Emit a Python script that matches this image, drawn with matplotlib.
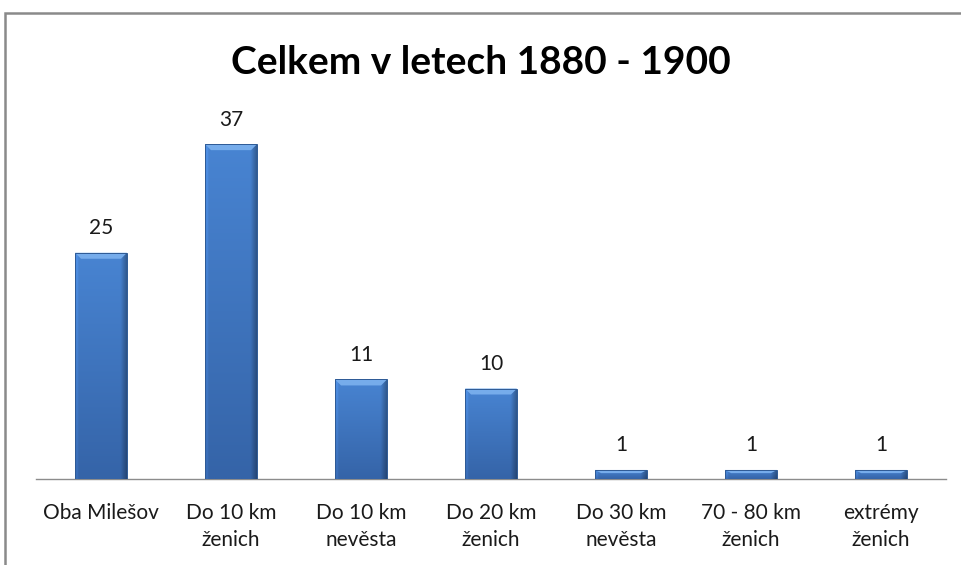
import matplotlib
matplotlib.use("Agg")
import matplotlib.pyplot as plt
import numpy as np
from matplotlib.patches import Rectangle, Polygon

categories = ["Oba Milešov", "Do 10 km\nženich", "Do 10 km\nnevěsta", "Do 20 km\nženich",
              "Do 30 km\nnevěsta", "70 - 80 km\nženich", "extrémy\nženich"]
values = [25, 37, 11, 10, 1, 1, 1]
title = "Celkem v letech 1880 - 1900"

plt.rcParams['font.family'] = ['Lato', 'DejaVu Sans']

fig = plt.figure(figsize=(9.61, 5.65), dpi=100)
fig.patch.set_facecolor("white")
ax = fig.add_axes([36/961, 86/565, 910/961, 362/565])
ax.set_xlim(-0.5, len(categories) - 0.5)
ax.set_ylim(0, 40)

x = np.arange(len(categories))
bars = ax.bar(x, values, width=0.4, color="#3C72BC", edgecolor="none", zorder=2)

# gradient texture: vertical light->dark, lighter left edge, darker right edge
top_c = np.array([0x48, 0x84, 0xD2]) / 255
bot_c = np.array([0x35, 0x64, 0xA8]) / 255
ny, nx = 64, 64
vy = np.linspace(0, 1, ny)[:, None, None]
base = top_c * (1 - vy) + bot_c * vy
hx = np.linspace(0, 1, nx)
hfac = np.ones(nx)
hfac = np.where(hx < 0.06, 1.08, hfac)
hfac = np.where(hx > 0.88, 1 - (hx - 0.88) / 0.12 * 0.3, hfac)
tex = np.clip(base * hfac[None, :, None], 0, 1)

px_per_unit_y = 362 / 40
px_per_unit_x = 910 / len(categories)
for b in bars:
    x0, y0 = b.get_x(), b.get_y()
    w, h = b.get_width(), b.get_height()
    im = ax.imshow(tex, aspect="auto", extent=(x0, x0 + w, y0, y0 + h), origin="upper",
                   zorder=3, interpolation="bilinear")
    im.set_clip_path(b)
    bh = min(6 / px_per_unit_y, h * 0.35)
    d = min(6 / px_per_unit_x, w * 0.2)
    top = y0 + h
    ax.add_patch(Polygon([(x0, top), (x0 + w, top), (x0 + w - d, top - bh), (x0 + d, top - bh)],
                         closed=True, facecolor="#76ACEB", edgecolor="none", zorder=4))
    ax.add_patch(Rectangle((x0, y0), w, h, facecolor="none", edgecolor="#2E5A95",
                           linewidth=0.7, zorder=5))

for xi, v in zip(x, values):
    ax.text(xi, v + 1.6, str(v), ha="center", va="bottom", fontsize=15, color="#1a1a1a")

ax.set_xticks(x)
ax.set_xticklabels(categories, fontsize=15, color="#1a1a1a", linespacing=1.45)
ax.tick_params(axis="x", length=0, pad=17)
ax.set_yticks([])
for s in ["left", "right", "top"]:
    ax.spines[s].set_visible(False)
ax.spines["bottom"].set_color("#8C8C8C")
ax.spines["bottom"].set_linewidth(1.0)
ax.set_xlim(-0.5, len(categories) - 0.5)
ax.set_ylim(0, 40)

fig.text(481/961, 1 - 63/565, title, ha="center", va="center", fontsize=28,
         fontweight="bold", color="black")

# outer chart border (continues beyond the right and bottom edges)
fig.add_artist(Rectangle((5/961, -0.1), 1.2, (565 - 13)/565 + 0.1, transform=fig.transFigure,
                         facecolor="none", edgecolor="#8A8A8A", linewidth=1.8))

fig.savefig("out.png", dpi=100, facecolor="white")
